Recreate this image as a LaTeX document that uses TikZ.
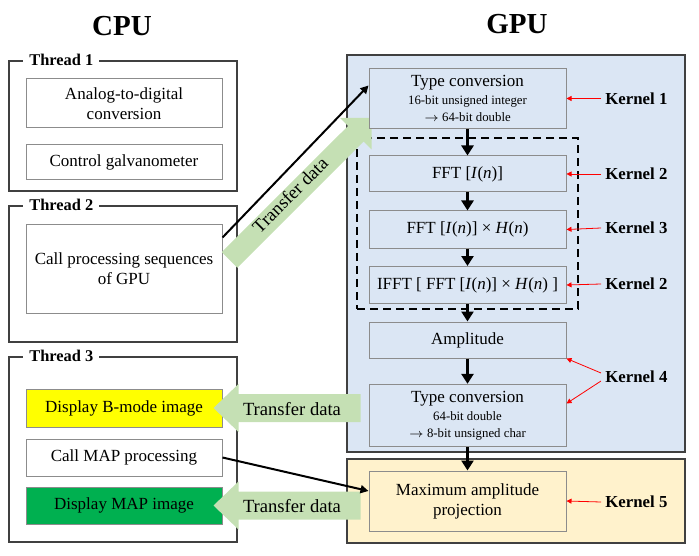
\documentclass[tikz,border=0pt]{standalone}
\usepackage{fontspec}
\setmainfont{Liberation Serif}
\usepackage{xcolor}
\usepackage{tikz}
\usetikzlibrary{arrows.meta}

\definecolor{gpublue}{HTML}{DBE6F4}
\definecolor{mapyellow}{HTML}{FFF2CC}
\definecolor{xfergreen}{HTML}{C5E0B4}
\definecolor{bmodeyellow}{HTML}{FFFF00}
\definecolor{mapgreen}{HTML}{00B050}
\definecolor{framegray}{HTML}{404040}
\definecolor{boxgray}{HTML}{8C8C8C}

\tikzset{
  thread/.style={draw=framegray, line width=1pt, minimum width=114pt},
  threadlabel/.style={fill=white, inner sep=3pt, anchor=west, font=\fontsize{8.2}{10}\selectfont\bfseries},
  cpubox/.style={draw=boxgray, line width=0.5pt, minimum width=98pt, align=center, font=\fontsize{8.5}{10}\selectfont},
  gpubox/.style={draw=boxgray, line width=0.5pt, fill=gpublue, minimum width=98.5pt, align=center, font=\fontsize{8.5}{10}\selectfont},
  kernel/.style={anchor=west, inner sep=2pt, font=\fontsize{8.4}{10}\selectfont\bfseries},
  xferlabel/.style={font=\fontsize{9.3}{11}\selectfont},
  flow/.style={line width=1.5pt, -{Triangle[width=6pt,length=5pt]}},
  link/.style={line width=1pt, -{Triangle[width=4pt,length=4pt]}},
  tored/.style={red, line width=0.4pt, -{Triangle[width=2.5pt,length=2.5pt]}},
}

\begin{document}
\begin{tikzpicture}[x=0.5pt,y=-0.5pt]
\useasboundingbox (0,0) rectangle (699,555);

% titles
\node[font=\fontsize{14.5}{17}\selectfont\bfseries] (cpu) at (122,26) {CPU};
\node[font=\fontsize{14.5}{17}\selectfont\bfseries] (gpu) at (517,24) {GPU};

% CPU threads
\node[thread, minimum height=65pt] (t1) at (123,126) {};
\node[threadlabel] at ([xshift=7.5pt]t1.north west) {Thread 1};
\node[cpubox, minimum height=24.5pt] (adc) at (124,103.5) {Analog-to-digital\\conversion};
\node[cpubox, minimum height=17.5pt] (galvo) at (124,162.5) {Control galvanometer};

\node[thread, minimum height=68pt] (t2) at (123,274) {};
\node[threadlabel] at ([xshift=7.5pt]t2.north west) {Thread 2};
\node[cpubox, minimum height=44pt] (callgpu) at (124,269) {Call processing sequences\\of GPU};

\node[thread, minimum height=92.5pt] (t3) at (123,449.5) {};
\node[threadlabel] at ([xshift=7.5pt]t3.north west) {Thread 3};
\node[cpubox, fill=bmodeyellow, minimum height=19pt] (bmode) at (124,408) {Display B-mode image};
\node[cpubox, minimum height=18.5pt] (callmap) at (124,457.5) {Call MAP processing};
\node[cpubox, fill=mapgreen, minimum height=18.5pt] (mapimg) at (124,505.5) {Display MAP image};

% GPU areas
\node[draw=framegray, line width=1.2pt, fill=gpublue, minimum width=169pt, minimum height=198.5pt] (gpuarea) at (516,253.5) {};
\node[draw=framegray, line width=1.2pt, fill=mapyellow, minimum width=169pt, minimum height=42pt] (maparea) at (516,501) {};
\node[draw, line width=0.8pt, dash pattern=on 4pt off 2.5pt, minimum width=110.5pt, minimum height=85.5pt] (fftgroup) at (467.5,223.5) {};

% transfer to GPU
\fill[xfergreen] (221.7,252.2) -- (348,126) -- (340,118) -- (371.5,118) -- (371.5,149.5) -- (363.5,141.5) -- (237.3,267.8) -- cycle;
\node[xferlabel, rotate=45] (xferup) at (290,195) {Transfer data};

% GPU kernels
\node[gpubox, minimum height=29.5pt] (tc1) at (467.5,98.5) {Type conversion\\[-1pt]{\fontsize{6.4}{7.5}\selectfont 16-bit unsigned integer}\\[-1.5pt]{\fontsize{6.4}{7.5}\selectfont $\to$ 64-bit double}};
\node[gpubox, minimum height=18pt] (fft) at (467.5,174) {FFT [\textit{I}(\textit{n})]};
\node[gpubox, minimum height=18.5pt] (ffth) at (467.5,229.5) {FFT [\textit{I}(\textit{n})] × \textit{H}(\textit{n})};
\node[gpubox, minimum height=18.5pt] (ifft) at (467.5,285) {IFFT [ FFT [\textit{I}(\textit{n})] × \textit{H}(\textit{n}) ]};
\node[gpubox, minimum height=18pt] (amp) at (467.5,340) {Amplitude};
\node[gpubox, minimum height=29.5pt] (tc2) at (467.5,415.5) {Type conversion\\[-1pt]{\fontsize{6.4}{7.5}\selectfont 64-bit double}\\[-1.5pt]{\fontsize{6.4}{7.5}\selectfont $\to$ 8-bit unsigned char}};
\node[gpubox, fill=mapyellow, minimum height=30pt] (mip) at (467.5,501) {Maximum amplitude\\projection};

\draw[flow] (tc1) -- (fft);
\draw[flow] (fft) -- (ffth);
\draw[flow] (ffth) -- (ifft);
\draw[flow] (ifft) -- (amp);
\draw[flow] (amp) -- (tc2);
\draw[flow] (tc2) -- (mip);

% kernel labels
\node[kernel] (k1) at (601,98.5) {Kernel 1};
\node[kernel] (k2) at (601,174) {Kernel 2};
\node[kernel] (k3) at (601,228) {Kernel 3};
\node[kernel] (k2b) at (601,284) {Kernel 2};
\node[kernel] (k4) at (601,377) {Kernel 4};
\node[kernel] (k5) at (601,502) {Kernel 5};
\draw[tored] (k1.west) -- (tc1.east);
\draw[tored] (k2.west) -- (fft.east);
\draw[tored] (k3.west) -- (ffth.east);
\draw[tored] (k2b.west) -- (ifft.east);
\draw[tored] ([yshift=2pt]k4.west) -- (amp.south east);
\draw[tored] ([yshift=-2pt]k4.west) -- ([yshift=6pt]tc2.east);
\draw[tored] (k5.west) -- (mip.east);

% transfers back to CPU
\fill[xfergreen] ([xshift=-4.5pt]bmode.east) -- ++(25,-24) -- ++(0,10) -- ++(122,0) -- ++(0,28) -- ++(-122,0) -- ++(0,10) -- cycle;
\node[xferlabel] (xferb) at (292,409) {Transfer data};
\fill[xfergreen] ([xshift=-4.5pt]mapimg.east) -- ++(25,-24) -- ++(0,10) -- ++(122,0) -- ++(0,28) -- ++(-122,0) -- ++(0,10) -- cycle;
\node[xferlabel] (xferm) at (292,506) {Transfer data};

% calls
\draw[link] ([yshift=-6.5pt]callgpu.north east) -- ([yshift=6.5pt]tc1.west);
\draw[link] (callmap.east) -- ([yshift=5pt]mip.west);
\end{tikzpicture}
\end{document}
